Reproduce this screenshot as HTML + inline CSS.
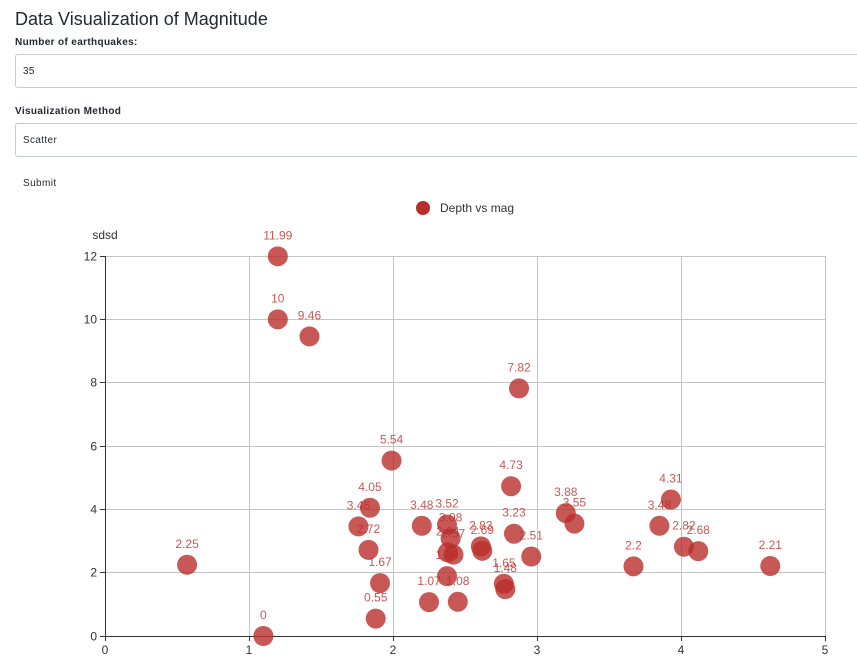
<!DOCTYPE html>
<html lang="en">
<head>
<meta charset="utf-8">
<title>Data Visualization of Magnitude</title>
<style>
  html, body { margin: 0; padding: 0; background: #fff; width: 857px; height: 671px; overflow: hidden; }
  body { font-family: "Liberation Sans", sans-serif; position: relative; color: #212529; }
  .abs { position: absolute; white-space: nowrap; }
  .title { left: 15px; top: 8px; font-size: 18px; line-height: 22px; color: #24292f; }
  .label { left: 15px; font-size: 10px; line-height: 12px; font-weight: bold; color: #24292f; letter-spacing: 0.35px; }
  .field { left: 15px; width: 860px; height: 32px; border: 1px solid #c6cbd3; border-radius: 3px; box-sizing: content-box; font-size: 10px; line-height: 34px; color: #24292f; padding-left: 7px; letter-spacing: 0.35px; }
  .submit { left: 23px; top: 178px; font-size: 10px; line-height: 12px; color: #24292f; letter-spacing: 0.4px; }
  svg { position: absolute; left: 0; top: 0; }
  svg text { font-family: "Liberation Sans", sans-serif; }
</style>
</head>
<body>
<div class="abs title">Data Visualization of Magnitude</div>
<div class="abs label" style="top:37px">Number of earthquakes:</div>
<div class="abs field" style="top:54px">35</div>
<div class="abs label" style="top:106px">Visualization Method</div>
<div class="abs field" style="top:123px">Scatter</div>
<div class="abs submit">Submit</div>
<svg id="chart" width="857" height="671" viewBox="0 0 857 671"></svg>
<script>
const xTicks = [0, 1, 2, 3, 4, 5];
const yTicks = [0, 2, 4, 6, 8, 10, 12];
const seriesName = 'Depth vs mag';
const yAxisName = 'sdsd';
const magnitudes = [1.20, 1.20, 1.42, 2.875, 1.99, 2.82, 3.93, 1.84, 3.20, 3.26, 3.85, 2.20, 2.375, 1.76, 2.84, 2.40, 2.61, 2.62, 4.02, 4.12, 1.83, 2.42, 2.38, 2.375, 2.96, 0.57, 3.67, 4.62, 1.91, 2.77, 2.78, 2.25, 2.45, 1.88, 1.10];
const depths = [11.99, 10, 9.46, 7.82, 5.54, 4.73, 4.31, 4.05, 3.88, 3.55, 3.48, 3.48, 3.52, 3.46, 3.23, 3.08, 2.83, 2.69, 2.82, 2.68, 2.72, 2.57, 2.64, 1.89, 2.51, 2.25, 2.2, 2.21, 1.67, 1.65, 1.48, 1.07, 1.08, 0.55, 0];

const svg = document.getElementById('chart');
const NS = 'http://www.w3.org/2000/svg';
const plot = { left: 105, right: 825, top: 256, bottom: 636 };
const xMax = xTicks[xTicks.length - 1];
const yMax = yTicks[yTicks.length - 1];
const xScale = v => plot.left + (v / xMax) * (plot.right - plot.left);
const yScale = v => plot.bottom - (v / yMax) * (plot.bottom - plot.top);
const crisp = v => Math.floor(v) + 0.5;

function make(tag, props) {
  const el = document.createElementNS(NS, tag);
  for (const k in props) el.setAttribute(k, props[k]);
  svg.appendChild(el);
  return el;
}

// Legend
const legendDot = make('circle', { cx: 423, cy: 208, r: 7, fill: '#b92e2a' });


const legendText = make('text', { x: 440, y: 212, 'font-size': 12, fill: '#333' });
legendText.textContent = seriesName;



// Y axis title
const yTitle = make('text', { x: 105, y: 239, 'font-size': 12, fill: '#333', 'text-anchor': 'middle' });
yTitle.textContent = yAxisName;



// Grid lines
xTicks.forEach(t => {
  if (t === 0) return;
  const x = crisp(xScale(t));
  const g = make('line', { x1: x, x2: x, y1: plot.top, y2: plot.bottom, stroke: '#c4c4c4', 'stroke-width': 1 });
  
  
});
yTicks.forEach(t => {
  if (t === 0) return;
  const y = crisp(yScale(t));
  const g = make('line', { x1: plot.left, x2: plot.right + 1, y1: y, y2: y, stroke: '#c4c4c4', 'stroke-width': 1 });
  
  
});

// Axes
const xAxisLine = make('line', { x1: plot.left - 5, x2: plot.right + 1, y1: plot.bottom + 0.5, y2: plot.bottom + 0.5, stroke: '#333', 'stroke-width': 1 });


const yAxisLine = make('line', { x1: plot.left + 0.5, x2: plot.left + 0.5, y1: plot.top, y2: plot.bottom + 5, stroke: '#333', 'stroke-width': 1 });



xTicks.forEach(t => {
  const x = crisp(xScale(t));
  const tick = make('line', { x1: x, x2: x, y1: plot.bottom, y2: plot.bottom + 5, stroke: '#333', 'stroke-width': 1 });
  
  
  const lab = make('text', { x: x - 0.5, y: plot.bottom + 18, 'font-size': 12, fill: '#333', 'text-anchor': 'middle' });
  lab.textContent = t;
  
  
});
yTicks.forEach(t => {
  const y = crisp(yScale(t));
  const tick = make('line', { x1: plot.left - 5, x2: plot.left, y1: y, y2: y, stroke: '#333', 'stroke-width': 1 });
  
  
  const lab = make('text', { x: plot.left - 8, y: y + 4, 'font-size': 12, fill: '#333', 'text-anchor': 'end' });
  lab.textContent = t;
  
  
});

// Points
magnitudes.forEach((m, i) => {
  const pt = make('circle', { cx: xScale(m), cy: yScale(depths[i]), r: 10, fill: '#b92e2a', 'fill-opacity': 0.8 });
  
  
});
// Value labels
magnitudes.forEach((m, i) => {
  const t = make('text', { x: xScale(m), y: yScale(depths[i]) - 17, 'font-size': 12, fill: '#b92e2a', 'fill-opacity': 0.8, 'text-anchor': 'middle' });
  t.textContent = depths[i];
  
  
});
</script>
</body>
</html>
